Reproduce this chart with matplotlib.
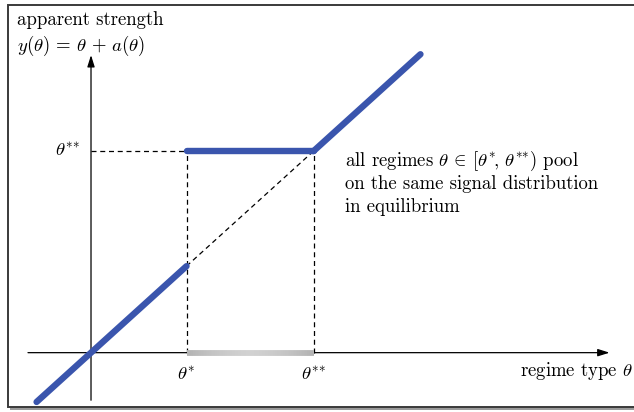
import numpy as np
import matplotlib
matplotlib.use("Agg")
import matplotlib.pyplot as plt
from matplotlib.collections import LineCollection
from matplotlib.patches import Rectangle

plt.rcParams["mathtext.fontset"] = "cm"
plt.rcParams["font.family"] = ["cmr10", "DejaVu Serif"]
plt.rcParams["axes.unicode_minus"] = False

# thresholds of the pooling interval
theta_star = 1.0
theta_2star = 2.33

# apparent strength y(theta) = theta + a(theta), piecewise
seg_low_theta = [-0.57, theta_star]
seg_low_y = [-0.57, theta_star]
seg_pool_theta = [theta_star, theta_2star]
seg_pool_y = [theta_2star, theta_2star]
seg_high_theta = [theta_2star, 3.45]
seg_high_y = [theta_2star, 3.45]

x_label = r"regime type $\theta$"
y_label_1 = "apparent strength"
y_label_2 = r"$y(\theta)\,=\,\theta\,+\,a(\theta)$"
tick_star = r"$\theta^{{*}}$"
tick_2star = r"$\theta^{{*}{*}}$"
note_lines = [r"all regimes $\theta\,\in\,[\theta^{{*}}\!,\,\theta^{{*}{*}})$ pool",
              "on the same signal distribution",
              "in equilibrium"]

BLUE = "#3a55ad"
FS = 13.5

fig = plt.figure(figsize=(6.34, 4.12), dpi=100)
ax = fig.add_axes([0, 0, 1, 1])
ax.set_xlim(-0.953, 5.686)
ax.set_ylim(-0.686, 4.077)
ax.axis("off")

# frame with a soft shadow along the bottom
ax.add_patch(Rectangle((10 / 634, 1 - 410 / 412), 640 / 634, 404 / 412,
                       transform=fig.transFigure, facecolor="#9a9a9a",
                       edgecolor="none", zorder=0, clip_on=False))
ax.add_patch(Rectangle((8 / 634, 1 - 407 / 412), 640 / 634, 402 / 412,
                       transform=fig.transFigure, facecolor="white",
                       edgecolor="#3a3a3a", lw=1.4, zorder=0.5, clip_on=False))

# coordinate axes with arrowheads
arrow = dict(arrowstyle="-|>,head_length=0.7,head_width=0.22", color="black",
             lw=0.9, shrinkA=0, shrinkB=0)
ax.annotate("", xy=(5.43, 0), xytext=(-0.66, 0), arrowprops=arrow, zorder=3)
ax.annotate("", xy=(0, 3.44), xytext=(0, -0.55), arrowprops=arrow, zorder=3)

# pooling interval on the theta axis (shaded bar, lighter in the middle)
xs = np.linspace(theta_star, theta_2star, 80)
segs = [[(xs[i], 0), (xs[i + 1], 0)] for i in range(len(xs) - 1)]
mid = 0.5 * (xs[:-1] + xs[1:])
t = np.abs((mid - 0.5 * (theta_star + theta_2star)) / (0.5 * (theta_2star - theta_star)))
shade = 0.82 - 0.12 * t ** 1.5
lc = LineCollection(segs, colors=[(s, s, s) for s in shade], linewidths=4.2,
                    capstyle="butt", zorder=4)
ax.add_collection(lc)

# dashed guides
dash = dict(color="black", lw=0.9, ls=(0, (4, 3)), zorder=2)
ax.plot([theta_star, theta_star], [0, theta_2star], **dash)
ax.plot([theta_2star, theta_2star], [0, theta_2star], **dash)
ax.plot([0, theta_star], [theta_2star, theta_2star], **dash)
ax.plot([theta_star, theta_2star], [theta_star, theta_2star], **dash)

# equilibrium apparent strength
line = dict(color=BLUE, lw=4.6, solid_capstyle="round", zorder=5)
ax.plot(seg_low_theta, seg_low_y, **line)
ax.plot(seg_pool_theta, seg_pool_y, **line)
ax.plot(seg_high_theta, seg_high_y, **line)

# labels
tr = fig.transFigure
def px(x, y):
    return x / 634, 1 - y / 412

ax.text(*px(17, 20), y_label_1, transform=tr, fontsize=FS, va="center", ha="left")
ax.text(*px(17, 46), y_label_2, transform=tr, fontsize=FS, va="center", ha="left")
ax.text(-0.12, theta_2star, tick_2star, fontsize=FS, ha="right", va="center")
ax.text(theta_star, -0.26, tick_star, fontsize=FS, ha="center", va="center")
ax.text(theta_2star, -0.26, tick_2star, fontsize=FS, ha="center", va="center")
ax.text(*px(633, 371), x_label, transform=tr, fontsize=FS, ha="right", va="center")
for i, s in enumerate(note_lines):
    ax.text(*px(345, 161 + 23 * i), s, transform=tr, fontsize=FS,
            ha="left", va="center")

fig.savefig("out.png", dpi=100)
